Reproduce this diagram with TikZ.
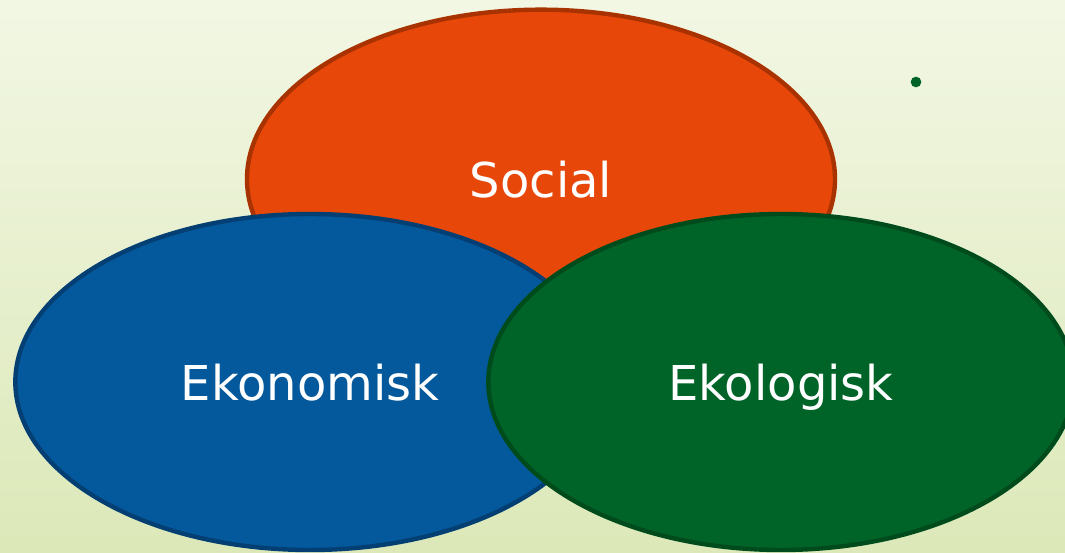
\documentclass[tikz,border=0pt]{standalone}
\usepackage{fontspec}
\setmainfont{DejaVu Sans}
\usepackage{tikz}
\usetikzlibrary{positioning,shapes.geometric}
\usepackage{xcolor}
\definecolor{bgtop}{HTML}{F2F7E4}
\definecolor{bgbottom}{HTML}{DCE8B8}
\definecolor{socialfill}{HTML}{E8470A}
\definecolor{socialline}{HTML}{A83300}
\definecolor{ekonfill}{HTML}{03599C}
\definecolor{ekonline}{HTML}{033F72}
\definecolor{ekolfill}{HTML}{006428}
\definecolor{ekolline}{HTML}{004B1C}

\begin{document}
\begin{tikzpicture}[x=0.75pt, y=-0.75pt,
	sphere/.style={ellipse, draw, line width=3.3pt, inner sep=0pt, text=white,
		text depth=0pt, font=\fontsize{36}{40}\selectfont}]
	\useasboundingbox (0,0) rectangle (1065,553);
	\shade[top color=bgtop, bottom color=bgbottom] (0,0) rectangle (1065,553);
	\node[sphere, fill=socialfill, draw=socialline, minimum width=441pt, minimum height=254pt] (social) at (541,179) {Social};
	\node[sphere, fill=ekonfill, draw=ekonline, minimum width=442pt, minimum height=252pt] (ekonomisk) at (310,382) {Ekonomisk};
	\node[sphere, fill=ekolfill, draw=ekolline, minimum width=439pt, minimum height=252pt] (ekologisk) at (781,382) {Ekologisk};
	\node[circle, fill=ekolfill, inner sep=0pt, minimum size=8pt] (dot) at (916,82) {};
\end{tikzpicture}
\end{document}
